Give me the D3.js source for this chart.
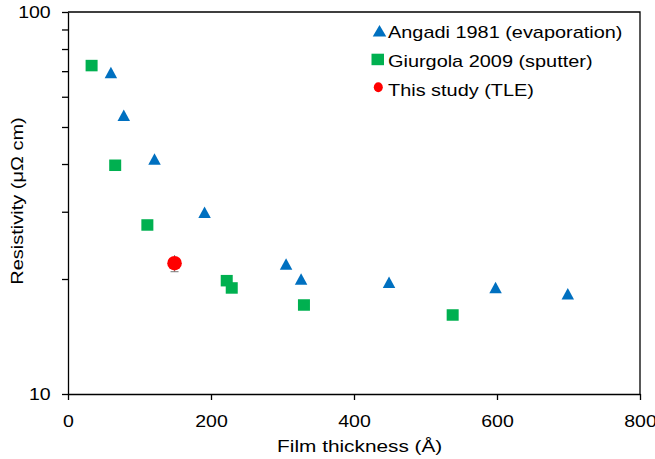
<!DOCTYPE html>
<html>
<head>
<meta charset="utf-8">
<script src="https://cdn.jsdelivr.net/npm/d3@7"></script>
<style>
  body { margin: 0; background: #fff; }
  svg { display: block; }
  text { font-family: "Liberation Sans", Arial, sans-serif; fill: #000; }
</style>
</head>
<body>
<div id="chart"></div>
<script>
// data
const angadiX = [60, 78, 121, 191, 305, 326, 449, 598, 699];
const angadiY = [69.4, 53.7, 41.2, 29.9, 21.9, 20.0, 19.6, 19.0, 18.3];
const giurgolaX = [33, 66, 111, 222, 229, 330, 538];
const giurgolaY = [72.4, 39.7, 27.7, 19.8, 18.95, 17.1, 16.1];
const tleX = [149];
const tleY = [22.0];
const tleErr = [1.1];
const xTicks = [0, 200, 400, 600, 800];
const yTicks = [10, 20, 30, 40, 50, 60, 70, 80, 90, 100];
const yLabels = [10, 100];
const legendNames = ['Angadi 1981 (evaporation)', 'Giurgola 2009 (sputter)', 'This study (TLE)'];

const width = 655;
const height = 459;
const plotLeft = 68, plotRight = 640, plotTop = 12, plotBottom = 394;
const fs = 16;
const stretch = 1.22; // the reference text is wider than it is tall

const blue = '#0070C0', green = '#00B050', red = '#FF0000';

const svg = d3.select('#chart').append('svg')
  .attr('width', width)
  .attr('height', height);

const x = d3.scaleLinear().domain([0, 800]).range([plotLeft, plotRight]);
const y = d3.scaleLog().domain([10, 100]).range([plotBottom, plotTop]);

const tri = (w, h) => `M0,${-h / 2}L${w / 2},${h / 2}L${-w / 2},${h / 2}Z`;

// frame (top + right)
svg.append('path')
  .attr('d', `M${plotLeft},${plotTop}H${plotRight}V${plotBottom}`)
  .attr('fill', 'none')
  .attr('stroke', '#000')
  .attr('stroke-width', 1.3);

// x axis
const xAxis = svg.append('g')
  .attr('transform', `translate(0,${plotBottom})`)
  .call(d3.axisBottom(x).tickValues(xTicks).tickSize(6).tickSizeOuter(0).tickFormat(d3.format('d')));
xAxis.select('.domain').attr('stroke-width', 1.3);
xAxis.selectAll('.tick line').attr('stroke-width', 1.3);
xAxis.selectAll('.tick text')
  .attr('y', 0).attr('dy', null)
  .attr('transform', `translate(0,32.7) scale(${stretch},1)`)
  .style('font-size', fs + 'px')
  .attr('fill', '#000');

// y axis
const yAxis = svg.append('g')
  .attr('transform', `translate(${plotLeft},0)`)
  .call(d3.axisLeft(y).tickValues(yTicks).tickSize(6).tickSizeOuter(0)
    .tickFormat(d => yLabels.includes(d) ? d : ''));
yAxis.select('.domain').attr('stroke-width', 1.3);
yAxis.selectAll('.tick line').attr('stroke-width', 1.3);
yAxis.selectAll('.tick text')
  .attr('x', 0).attr('dy', '0.35em')
  .attr('transform', `translate(-17.3,0) scale(${stretch},1)`)
  .style('font-size', fs + 'px')
  .attr('fill', '#000');

// axis titles
svg.append('text')
  .attr('text-anchor', 'middle')
  .attr('transform', 'translate(359.7,452.3) scale(1.3,1)')
  .style('font-size', fs + 'px')
  .text('Film thickness (Å)');

svg.append('text')
  .attr('text-anchor', 'middle')
  .attr('transform', 'translate(23.3,201) rotate(-90) scale(1.25,1)')
  .style('font-size', fs + 'px')
  .text('Resistivity (μΩ cm)');

// markers
svg.append('g').selectAll('path')
  .data(angadiX.map((d, i) => [d, angadiY[i]]))
  .join('path')
  .attr('d', tri(12.5, 11.5))
  .attr('transform', d => `translate(${x(d[0])},${y(d[1])})`)
  .attr('fill', blue);

svg.append('g').selectAll('rect')
  .data(giurgolaX.map((d, i) => [d, giurgolaY[i]]))
  .join('rect')
  .attr('x', d => x(d[0]) - 6)
  .attr('y', d => y(d[1]) - 5.75)
  .attr('width', 12)
  .attr('height', 11.5)
  .attr('fill', green);

const tle = svg.append('g').selectAll('g')
  .data(tleX.map((d, i) => [d, tleY[i], tleErr[i]]))
  .join('g');
tle.append('line')
  .attr('x1', d => x(d[0])).attr('x2', d => x(d[0]))
  .attr('y1', d => y(d[1] - d[2])).attr('y2', d => y(d[1] + d[2]))
  .attr('stroke', '#777').attr('stroke-width', 1);
tle.append('line')
  .attr('x1', d => x(d[0]) - 4).attr('x2', d => x(d[0]) + 4)
  .attr('y1', d => y(d[1] - d[2])).attr('y2', d => y(d[1] - d[2]))
  .attr('stroke', '#777').attr('stroke-width', 1);
tle.append('circle')
  .attr('cx', d => x(d[0]))
  .attr('cy', d => y(d[1]))
  .attr('r', 7.3)
  .attr('fill', red);

// legend
const legendRows = [37.7, 66.7, 95.7];
const lg = svg.append('g').selectAll('g')
  .data(legendNames)
  .join('g')
  .attr('transform', (d, i) => `translate(0,${legendRows[i]})`);
lg.append('text')
  .attr('transform', `translate(388,0) scale(1.17,1)`)
  .style('font-size', '17px')
  .text(d => d);
lg.filter((d, i) => i === 0).append('path')
  .attr('d', tri(13.5, 11.5))
  .attr('transform', 'translate(379.5,-7)')
  .attr('fill', blue);
lg.filter((d, i) => i === 1).append('rect')
  .attr('x', 371.5).attr('y', -13)
  .attr('width', 12.5).attr('height', 11.5)
  .attr('fill', green);
lg.filter((d, i) => i === 2).append('ellipse')
  .attr('cx', 378.3).attr('cy', -8.5)
  .attr('rx', 4.5).attr('ry', 5)
  .attr('fill', red);
</script>
</body>
</html>
